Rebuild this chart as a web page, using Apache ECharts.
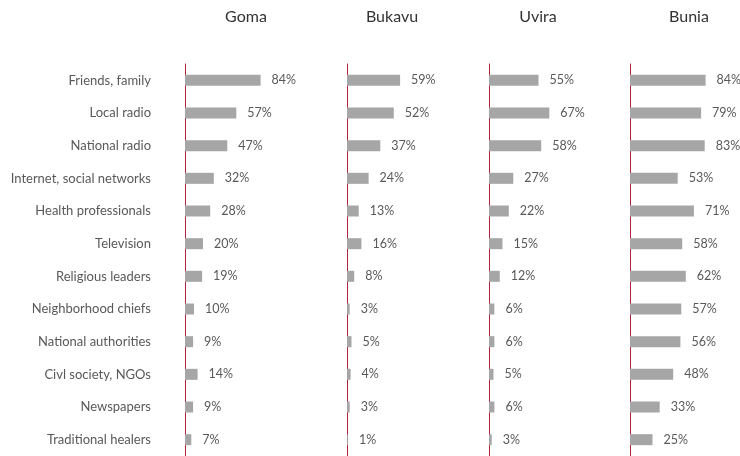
<!DOCTYPE html>
<html><head><meta charset="utf-8">
<script src="https://cdn.jsdelivr.net/npm/echarts@6/dist/echarts.min.js"></script>
<style>html,body{margin:0;padding:0;background:#fff}#c{width:740px;height:456px}</style>
</head><body><div id="c"></div>
<script>
const categories = ["Friends, family","Local radio","National radio","Internet, social networks","Health professionals","Television","Religious leaders","Neighborhood chiefs","National authorities","Civl society, NGOs","Newspapers","Traditional healers"];
const cities = ["Goma","Bukavu","Uvira","Bunia"];
const goma = [84,57,47,32,28,20,19,10,9,14,9,7];
const bukavu = [59,52,37,24,13,16,8,3,5,4,3,1];
const uvira = [55,67,58,27,22,15,12,6,6,5,6,3];
const bunia = [84,79,83,53,71,58,62,57,56,48,33,25];
const seriesData = [goma,bukavu,uvira,bunia];

const FONT = 'Lato';
const lefts = [185,347,489,630];
const titleX = [241,387,533,684];
const grids=[],xAxes=[],yAxes=[],series=[],titles=[];
seriesData.forEach((d,i)=>{
  grids.push({left:lefts[i],top:64,width:90,height:392});
  xAxes.push({type:'value',gridIndex:i,min:0,max:100,show:false});
  yAxes.push({type:'category',gridIndex:i,data:categories,inverse:true,
    axisLine:{show:true,onZero:false,lineStyle:{color:'#b0243c',width:1}},
    axisTick:{show:false},
    axisLabel:{show:i===0,color:'#595959',fontSize:13,fontFamily:FONT,margin:34}});
  series.push({type:'bar',xAxisIndex:i,yAxisIndex:i,data:d,barWidth:11,
    itemStyle:{color:'#a6a6a6'},silent:true,
    label:{show:true,position:'right',distance:11,formatter:'{c}%',color:'#595959',fontSize:12.5,fontFamily:FONT}});
  titles.push({text:cities[i],left:titleX[i],top:4,textAlign:'center',
    textStyle:{fontSize:16,fontWeight:'normal',color:'#333',fontFamily:FONT}});
});
const chart = echarts.init(document.getElementById('c'));
chart.setOption({animation:false,title:titles,grid:grids,xAxis:xAxes,yAxis:yAxes,series:series});
</script></body></html>
